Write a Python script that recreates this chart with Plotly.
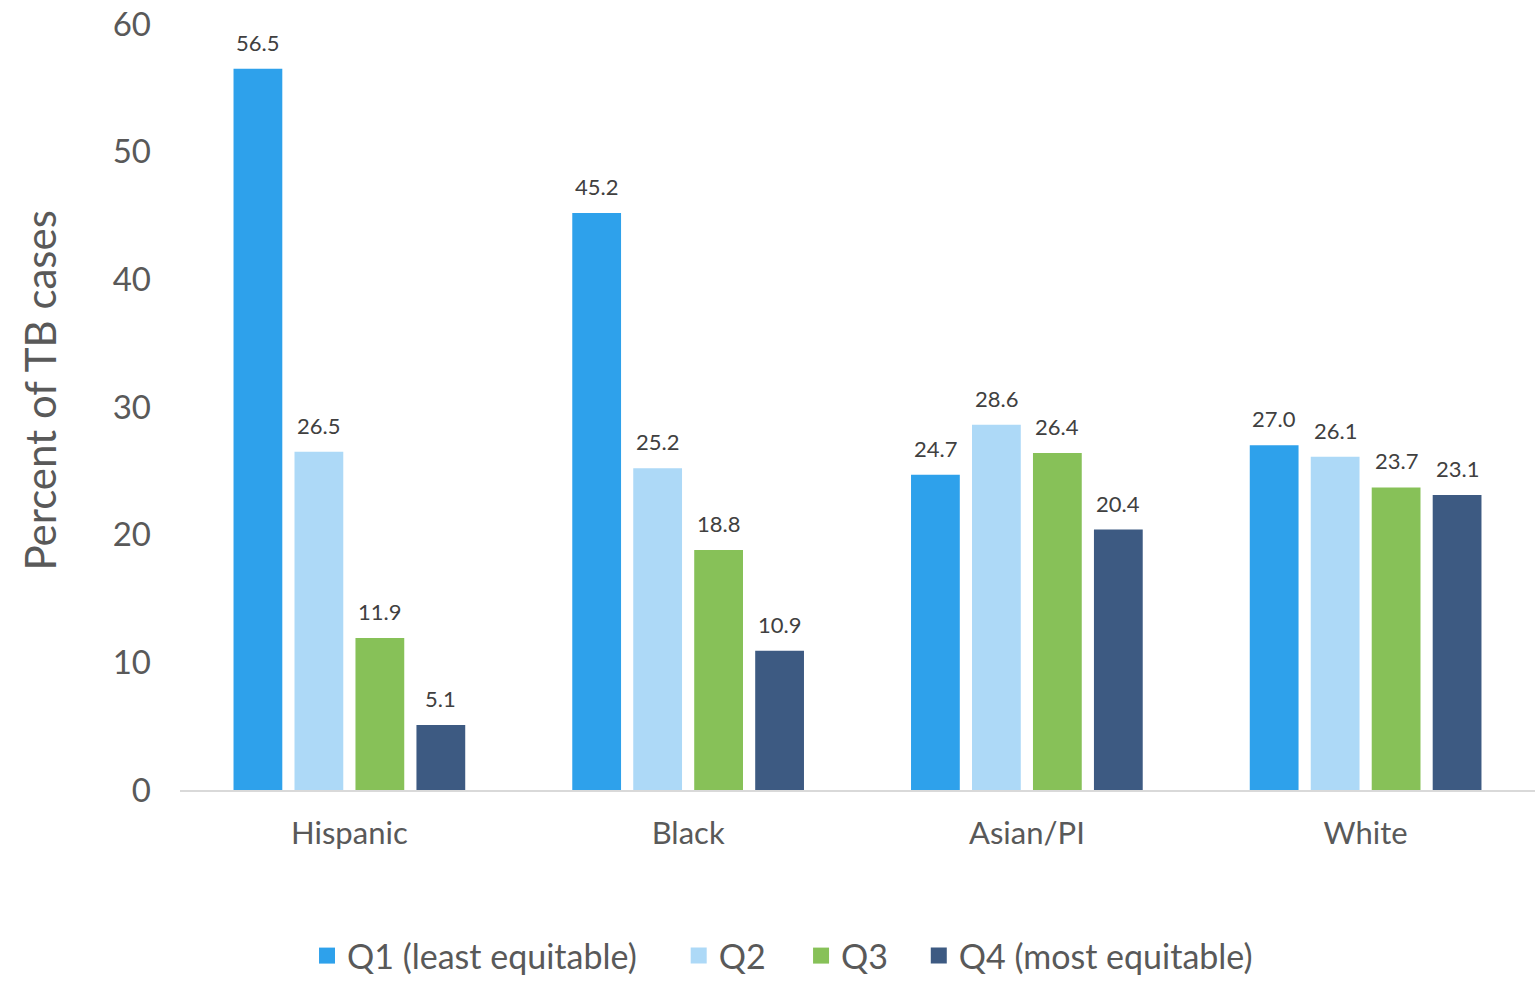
import plotly.graph_objects as go

groups = ["Hispanic", "Black", "Asian/PI", "White"]
series_names = ["Q1 (least equitable)", "Q2", "Q3", "Q4 (most equitable)"]
q1 = [56.5, 45.2, 24.7, 27.0]
q2 = [26.5, 25.2, 28.6, 26.1]
q3 = [11.9, 18.8, 26.4, 23.7]
q4 = [5.1, 10.9, 20.4, 23.1]
colors = ["#2EA1EB", "#ADD9F7", "#87C158", "#3D5A82"]

FONT = "Lato"
GREY = "#595959"

W, H = 1539, 985
M_L, M_R, M_T, M_B = 180, 4, 24, 195
BARGAP = 0.28
n_series = 4

# pixel width of one bar slot inside a category group
slot_px = (W - M_L - M_R) / len(groups) * (1 - BARGAP) / n_series

fig = go.Figure()
annotations = []
legend_x = [0.1995, 0.441, 0.5205, 0.597]
for i, (name, vals, col) in enumerate(zip(series_names, [q1, q2, q3, q4], colors)):
    fig.add_trace(go.Bar(
        x=groups, y=vals, name=name, showlegend=False,
        marker=dict(color=col, line=dict(width=0)),
        cliponaxis=False,
    ))
    # value labels above each bar
    for g, v in zip(groups, vals):
        annotations.append(dict(
            x=g, y=v, xref="x", yref="y", text=f"{v:.1f}",
            xshift=(i - (n_series - 1) / 2) * slot_px, yshift=11,
            yanchor="bottom", xanchor="center", showarrow=False,
            font=dict(family=FONT, size=22, color="#404040"),
        ))
    # one legend box per series so entries can be spaced freely
    lg = "legend" if i == 0 else f"legend{i + 1}"
    fig.add_trace(go.Scatter(
        x=[None], y=[None], mode="markers", name=name, legend=lg,
        marker=dict(symbol="square", size=18, color=col),
    ))
    fig.update_layout({lg: dict(
        orientation="h", xref="container", yref="container",
        x=legend_x[i], xanchor="left", y=0.0, yanchor="bottom",
        font=dict(family=FONT, size=34, color=GREY),
        itemwidth=30, bgcolor="rgba(0,0,0,0)",
    )})

annotations.append(dict(
    text="Percent of TB cases", textangle=-90,
    xref="paper", yref="paper", x=-0.103, y=0.522,
    xanchor="center", yanchor="middle", showarrow=False,
    font=dict(family=FONT, size=42, color=GREY),
))

fig.update_layout(
    width=W, height=H,
    margin=dict(l=M_L, r=M_R, t=M_T, b=M_B),
    paper_bgcolor="white", plot_bgcolor="white",
    barmode="group", bargap=BARGAP, bargroupgap=0.2,
    font=dict(family=FONT, color=GREY),
    showlegend=True,
    annotations=annotations,
)
fig.update_yaxes(
    range=[0, 60], dtick=10, showgrid=False, zeroline=False,
    showline=False, ticks="", ticklabelstandoff=28,
    tickfont=dict(family=FONT, size=33, color=GREY),
)
fig.update_xaxes(
    showline=True, linecolor="#D9D9D9", linewidth=2, ticks="",
    tickfont=dict(family=FONT, size=31, color=GREY),
    ticklabelstandoff=15,
)

fig.write_html("out.html")
